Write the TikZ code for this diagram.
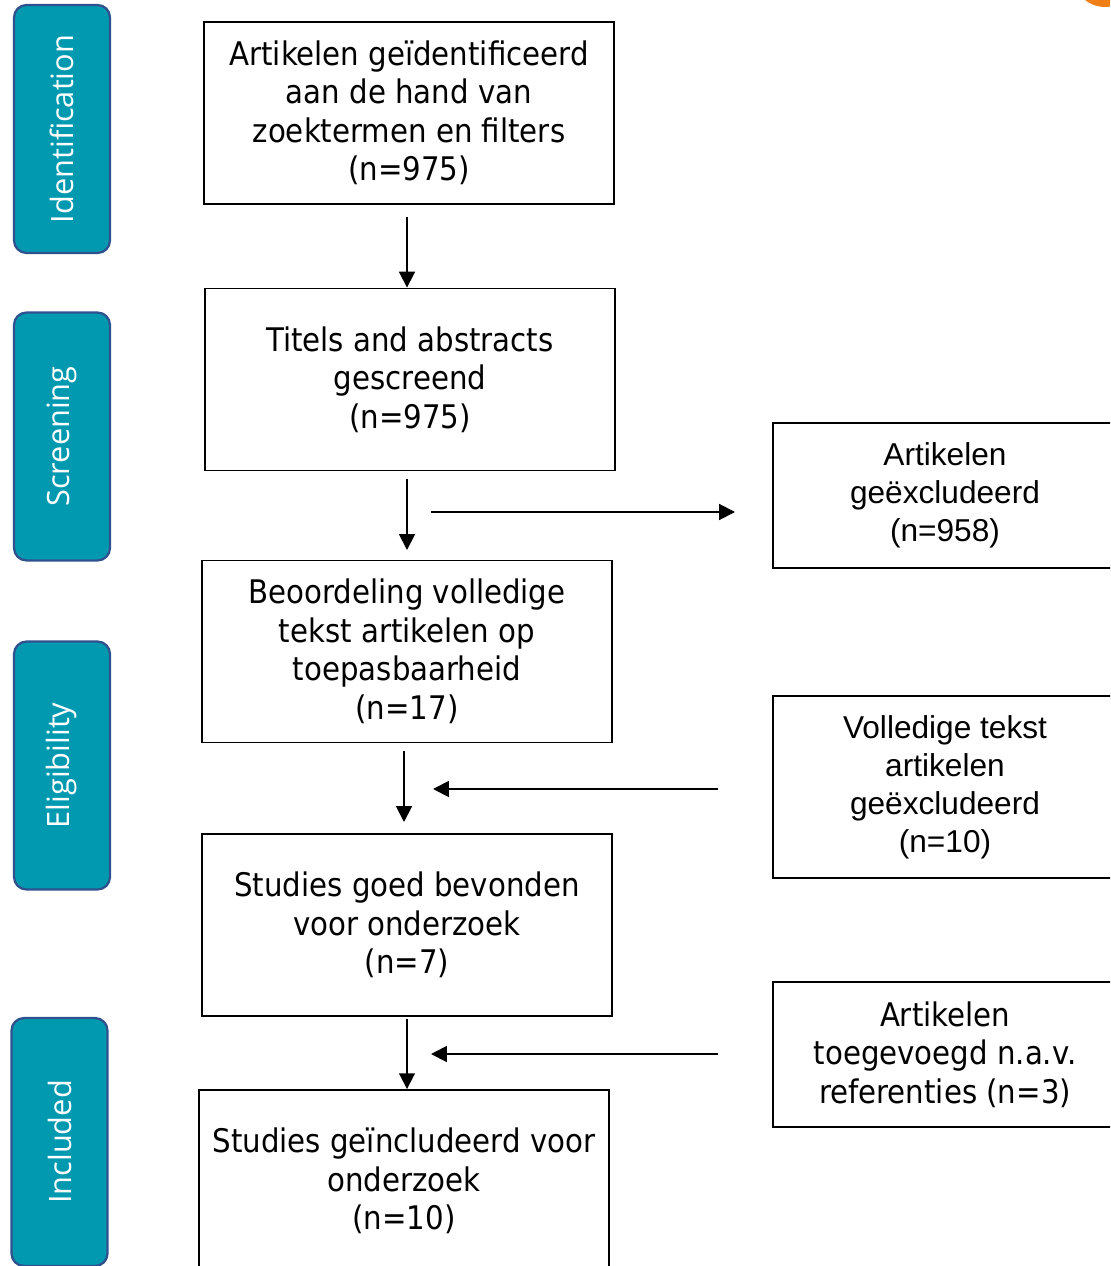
\documentclass[tikz,border=0pt]{standalone}
\usepackage{fontspec}
\newfontfamily\tahomafont{DejaVu Sans Condensed}
\newfontfamily\arialfont{Liberation Sans}
\newfontfamily\segoefont{Open Sans}
\usetikzlibrary{arrows.meta}
\definecolor{PhaseTeal}{RGB}{0,153,176}
\definecolor{PhaseEdge}{RGB}{47,82,143}
\definecolor{LogoOrange}{RGB}{240,127,23}

\begin{document}
\begin{tikzpicture}[x=0.02cm, y=-0.02cm,
    flowbox/.style={draw, line width=1.1pt, minimum width=8.2cm, minimum height=3.64cm,
      align=center, inner sep=0pt, font=\tahomafont\fontsize{18.5}{21.9}\selectfont},
    sidebox/.style={draw=PhaseEdge, fill=PhaseTeal, line width=1.3pt, rounded corners=0.25cm,
      rotate=90, minimum width=4.96cm, minimum height=1.92cm, text=white,
      font=\segoefont\fontsize{17.5}{20}\selectfont},
    arr/.style={line width=1.1pt, -{Triangle[length=9pt,width=9pt]}}]
        \useasboundingbox (0,0) rectangle (1110,1266);
        \clip (0,0) rectangle (1110,1266);

        % Corner logo
        \fill[LogoOrange] (1105,-25) circle[radius=0.64cm];

        % Phases
        \node[sidebox] (ident) at (62,129) {Identification};
        \node[sidebox] (screen) at (62,436.5) {Screening};
        \node[sidebox] (elig) at (62,765.5) {Eligibility};
        \node[sidebox] (incl) at (59.5,1142) {Included};

        % Main column
        \node[flowbox] (found) at (409,113) {Artikelen geïdentificeerd\\aan de hand van\\zoektermen en filters\\(n=975)};
        \node[flowbox] (titles) at (410,379.5) {Titels and abstracts\\gescreend\\(n=975)};
        \node[flowbox] (fulltext) at (407,651.5) {Beoordeling volledige\\tekst artikelen op\\toepasbaarheid\\(n=17)};
        \node[flowbox] (good) at (407,925) {Studies goed bevonden\\voor onderzoek\\(n=7)};
        \node[flowbox] (included) at (404,1181) {Studies geïncludeerd voor\\onderzoek\\(n=10)};

        % Side column
        \node[flowbox, minimum width=6.88cm, minimum height=2.9cm, font=\arialfont\fontsize{18}{21.6}\selectfont] (excl1) at (945,495.5) {Artikelen\\geëxcludeerd\\(n=958)};
        \node[flowbox, minimum width=6.88cm, font=\arialfont\fontsize{18}{21.6}\selectfont] (excl2) at (945,787) {Volledige tekst\\artikelen\\geëxcludeerd\\(n=10)};
        \node[flowbox, minimum width=6.88cm, minimum height=2.9cm] (added) at (945,1054.5) {Artikelen\\toegevoegd n.a.v.\\referenties (n=3)};

        % Arrow ends
        \coordinate (d1) at (407,217);
        \coordinate (d2) at (407,479);
        \coordinate (d2e) at (407,550);
        \coordinate (d3) at (404,751);
        \coordinate (d3e) at (404,822);
        \coordinate (d4) at (407,1019);
        \coordinate (h1) at (431,512);
        \coordinate (h1e) at (735,512);
        \coordinate (h2) at (718,789);
        \coordinate (h2e) at (433,789);
        \coordinate (h3) at (718,1054);
        \coordinate (h3e) at (431,1054);

        % Arrows
        \draw[arr] (d1) -- (d1 |- titles.north);
        \draw[arr] (d2) -- (d2e);
        \draw[arr] (h1) -- (h1e);
        \draw[arr] (d3) -- (d3e);
        \draw[arr] (h2) -- (h2e);
        \draw[arr] (d4) -- (d4 |- included.north);
        \draw[arr] (h3) -- (h3e);
    \end{tikzpicture}
\end{document}
